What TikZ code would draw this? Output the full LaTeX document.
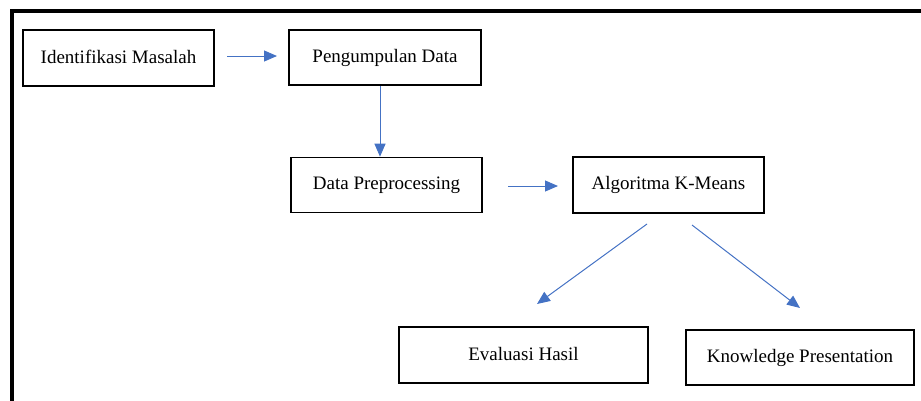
\documentclass[tikz,border=0pt]{standalone}
\usepackage{fontspec}
\setmainfont{Liberation Serif}
\usetikzlibrary{arrows.meta}
\definecolor{arrowblue}{HTML}{4472C4}
\newcommand{\boxtext}[1]{\raisebox{3pt}{#1}}
\tikzset{
  box/.style={draw=black, line width=1.6pt, rectangle, inner sep=0pt, font=\fontsize{19}{22}\selectfont},
  conn/.style={draw=arrowblue, line width=1pt, -{Triangle[length=13pt,width=11pt]}},
}
\begin{document}
\begin{tikzpicture}[x=1pt,y=-1pt]
\useasboundingbox (0,0) rectangle (921,400);
% frame
\draw[line width=4pt, line cap=rect] (12,400) -- (12,11) -- (921,11);
% boxes
\node[box, minimum width=191pt, minimum height=56pt] (im) at (118.5,58) {\boxtext{Identifikasi Masalah}};
\node[box, minimum width=192pt, minimum height=55pt] (pd) at (385,57.5) {\boxtext{Pengumpulan Data}};
\node[box, minimum width=191pt, minimum height=55pt] (dp) at (386.5,185) {\boxtext{Data Preprocessing}};
\node[box, minimum width=191pt, minimum height=56pt] (km) at (668.5,185) {\boxtext{Algoritma K-Means}};
\node[box, minimum width=249pt, minimum height=56pt] (eh) at (523.5,355) {\boxtext{Evaluasi Hasil}};
\node[box, minimum width=228pt, minimum height=55pt] (kp) at (800,357.5) {\boxtext{Knowledge Presentation}};
% connector ends
\coordinate (a1s) at (227,56);
\coordinate (a1e) at (277,56);
\coordinate (a3s) at (508,186);
\coordinate (a3e) at (558,186);
\coordinate (a4s) at (647,224);
\coordinate (a4e) at (537,304);
\coordinate (a5s) at (692,225);
\coordinate (a5e) at (800,308);
% connectors
\draw[conn] (a1s) -- (a1e);
\draw[conn] (pd.south -| 380,0) -- (dp.north -| 380,0);
\draw[conn] (a3s) -- (a3e);
\draw[conn] (a4s) -- (a4e);
\draw[conn] (a5s) -- (a5e);
\end{tikzpicture}
\end{document}
